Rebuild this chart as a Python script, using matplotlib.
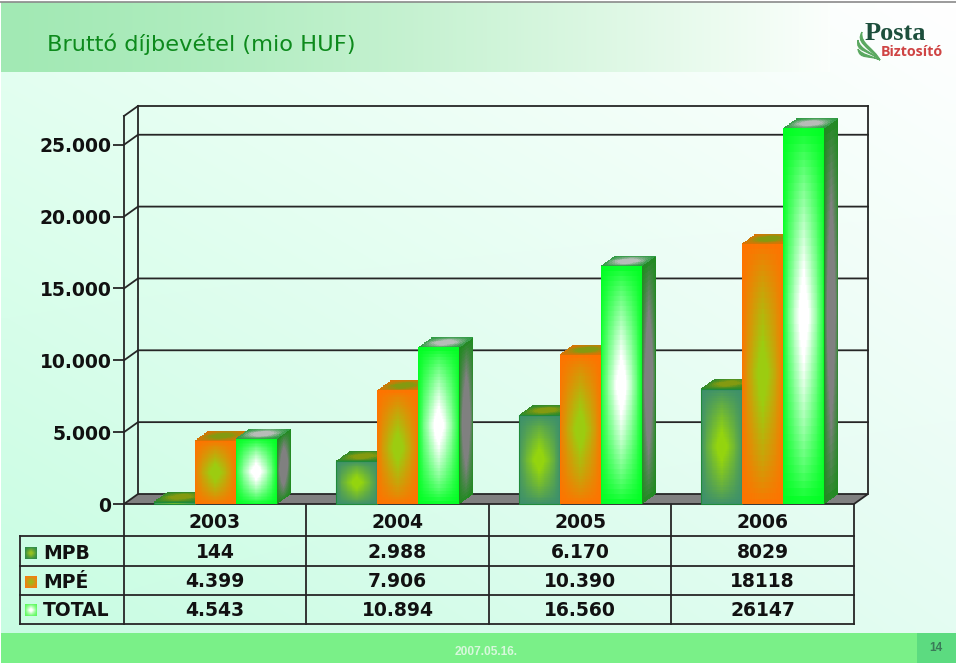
import numpy as np
import matplotlib
matplotlib.use("Agg")
import matplotlib.pyplot as plt
from matplotlib.patches import Polygon, Rectangle, PathPatch
from matplotlib.path import Path
from matplotlib.colors import to_rgb

# ---- data ----
years = ["2003", "2004", "2005", "2006"]
series_names = ["MPB", "MPÉ", "TOTAL"]
mpb = [144, 2988, 6170, 8029]
mpe = [4399, 7906, 10390, 18118]
total = [4543, 10894, 16560, 26147]
mpb_labels = ["144", "2.988", "6.170", "8029"]
mpe_labels = ["4.399", "7.906", "10.390", "18118"]
total_labels = ["4.543", "10.894", "16.560", "26147"]
y_ticks = [0, 5000, 10000, 15000, 20000, 25000]
y_tick_labels = ["0", "5.000", "10.000", "15.000", "20.000", "25.000"]
title = "Bruttó díjbevétel (mio HUF)"
footer_date = "2007.05.16."
page_no = "14"

W, H = 960, 664
FONT = "DejaVu Sans"
INK = "#262626"

# face styles: (outer, inner)
front_cols = [("#3c8f6c", "#94d40e"), ("#ff7200", "#9ccc10"), ("#00ff22", "#ffffff")]
top_cols = [("#2c8a2c", "#849a10"), ("#dc7204", "#849a10"), ("#2c9a40", "#b8bcb8")]
side_cols = [("#1f8a1f", "#808080")] * 3
key_cols = [("#2a8a4a", "#96c020"), ("#f87a10", "#a0b818"), ("#58fa58", "#ffffff")]


def box_grad(ax, p0, ex, ey, outer, inner, n=48, gain=1.25, power=0.8, zorder=3):
    """Fill the parallelogram p0, p0+ex, p0+ey with a soft box gradient."""
    u = np.linspace(0, 1, n + 1)
    v = np.linspace(0, 1, n + 1)
    U, V = np.meshgrid(u, v)
    X = p0[0] + U * ex[0] + V * ey[0]
    Y = p0[1] + U * ex[1] + V * ey[1]
    uc = (u[:-1] + u[1:]) / 2
    vc = (v[:-1] + v[1:]) / 2
    UC, VC = np.meshgrid(uc, vc)
    tx = 1 - np.abs(2 * UC - 1)
    ty = 1 - np.abs(2 * VC - 1)
    t = np.clip(gain * (tx * ty) ** power, 0, 1)
    o, i = np.array(to_rgb(outer)), np.array(to_rgb(inner))
    C = o[None, None, :] * (1 - t[..., None]) + i[None, None, :] * t[..., None]
    ax.pcolormesh(X, Y, C, shading="flat", antialiased=False, linewidth=0,
                  zorder=zorder, clip_on=False)


fig = plt.figure(figsize=(W / 100, H / 100), dpi=100, facecolor="white")

# ---- page layer in pixel coordinates ----
page = fig.add_axes([0, 0, 1, 1], zorder=0)
page.set_xlim(0, W)
page.set_ylim(H, 0)
page.axis("off")

tl, tr = np.array(to_rgb("#e6fff2")), np.array(to_rgb("#ffffff"))
bl, br = np.array(to_rgb("#c8fde2")), np.array(to_rgb("#e4fcf2"))
a = np.linspace(0, 1, 80)[None, :, None]
b = np.linspace(0, 1, 60)[:, None, None]
bg = (tl * (1 - a) + tr * a) * (1 - b) + (bl * (1 - a) + br * a) * b
page.imshow(bg, extent=(1, 956, 633, 3), aspect="auto", interpolation="bilinear", zorder=0)

hl = np.array(to_rgb("#a2e9b4"))
hr = np.array(to_rgb("#fbfffc"))
c = (np.linspace(0, 1, 200) ** 1.3)[None, :, None]
page.imshow(hl * (1 - c) + hr * c, extent=(1, 830, 72.5, 3), aspect="auto",
            interpolation="bilinear", zorder=0.5)
page.set_xlim(0, W)
page.set_ylim(H, 0)
page.plot([0, 956], [2, 2], color="#8a8a8a", lw=1.2, zorder=1, solid_capstyle="butt")
page.add_patch(Rectangle((1, 633), 955, 30, fc="#7af088", ec="none", zorder=1))
page.add_patch(Rectangle((917, 633), 39, 30, fc="#5cdb80", ec="none", zorder=1.1))
page.text(47, 44, title, fontsize=16.2, color="#0d8a1c", family=FONT, va="center", ha="left", zorder=2)
page.text(486, 652, footer_date, fontsize=8.6, color="#d8f8dc", family="Liberation Sans",
          weight="bold", ha="center", va="center", zorder=2)
page.text(936, 648, page_no, fontsize=8.6, color="#3a7a58", family="Liberation Sans",
          weight="bold", ha="center", va="center", zorder=2)

# logo
page.text(895, 40, "Posta", fontsize=19, color="#1d4f3c", family="Liberation Serif",
          weight="bold", ha="center", va="baseline", zorder=2)
page.text(911.5, 52, "Biztosító", fontsize=10.3, color="#cf4444", family="Open Sans",
          weight="bold", ha="center", va="center", zorder=2)
leaves = [
    [(862, 32), (856, 42), (866, 46), (880, 60), (874, 48), (860, 44), (862, 32)],
    [(858, 40), (855, 52), (868, 50), (880, 60), (872, 52), (860, 50), (858, 40)],
    [(858, 49), (859, 60), (870, 55), (880, 60), (872, 56), (862, 55), (858, 49)],
]
for pts in leaves:
    codes = [Path.MOVETO] + [Path.CURVE4] * 6
    page.add_patch(PathPatch(Path(pts, codes), fc="#5aa860", ec="#5aa860", lw=0.8, zorder=2))

# ---- table ----
col_x = [124, 306, 489, 671, 854]
row_y = [504, 536, 566, 595, 623.5]
row_text_y = [522.5, 553, 581.5, 610]
TL = 1.3
for x in col_x:
    page.plot([x, x], [504, 623.5], color=INK, lw=TL, zorder=2, solid_capstyle="projecting")
page.plot([20, 20], [536, 623.5], color=INK, lw=TL, zorder=2, solid_capstyle="projecting")
for y in row_y[1:]:
    page.plot([20, 854], [y, y], color=INK, lw=TL, zorder=2, solid_capstyle="projecting")
TS = 13.5
col_centers = [(col_x[i] + col_x[i + 1]) / 2 for i in range(4)]
for j, yr in enumerate(years):
    page.text(col_centers[j], row_text_y[0], yr, fontsize=TS, weight="bold", family=FONT,
              ha="center", va="center", color="#111111", zorder=3)
for r, labels in enumerate([mpb_labels, mpe_labels, total_labels]):
    yy = row_text_y[r + 1]
    for j, s in enumerate(labels):
        page.text(col_centers[j], yy, s, fontsize=TS, weight="bold", family=FONT,
                  ha="center", va="center", color="#111111", zorder=3)
    page.text(43, yy + 0.5, series_names[r], fontsize=TS, weight="bold", family=FONT,
              ha="left", va="center", color="#111111", zorder=3)
    box_grad(page, (25, yy + 6), (12, 0), (0, -12), key_cols[r][0], key_cols[r][1], n=12)
page.set_xlim(0, W)
page.set_ylim(H, 0)

# ---- chart axes ----
ax = fig.add_axes([124 / W, 1 - 504 / H, 730 / W, 388 / H], zorder=1)
ax.patch.set_alpha(0)
ax.set_xlim(-0.5, 3.5)
ax.set_ylim(0, 27000)
for s in ax.spines.values():
    s.set_visible(False)
ax.set_xticks([])
ax.set_yticks(y_ticks, y_tick_labels)
ax.tick_params(axis="y", length=8, width=TL, color=INK, pad=1, labelsize=TS, labelcolor="#111111")
for lb in ax.get_yticklabels():
    lb.set_fontweight("bold")
    lb.set_family(FONT)

px_x = 4 / 730      # data units per pixel
px_y = 27000 / 388
dx = 14 * px_x
dy = 10 * px_y
x0, x1 = -0.5, 3.5
y1 = 27000

# floor
ax.add_patch(Polygon([(x0, 0), (x1, 0), (x1 + dx, dy), (x0 + dx, dy)], fc="#808080", ec=INK,
                     lw=TL, clip_on=False, zorder=1))
# walls and gridlines
line = dict(color=INK, lw=TL, clip_on=False, zorder=1.5, solid_capstyle="projecting")
ax.plot([x0, x0], [0, y1], **line)
ax.plot([x0, x0 + dx], [y1, y1 + dy], **line)
ax.plot([x0 + dx, x0 + dx], [dy, y1 + dy], **line)
ax.plot([x0 + dx, x1 + dx], [y1 + dy, y1 + dy], **line)
ax.plot([x1 + dx, x1 + dx], [dy, y1 + dy], **line)
for t in y_ticks[1:]:
    ax.plot([x0, x0 + dx, x1 + dx], [t, t + dy, t + dy], **line)

# bars
bw = 41 / 182.5
for i in range(len(years)):
    for k, vals in enumerate([mpb, mpe, total]):
        h = vals[i]
        left = i + (k - 1.5) * bw
        right = left + bw
        z = 3 + i + k * 0.1
        box_grad(ax, (right, 0), (dx, dy), (0, h), *side_cols[k], gain=2.0, power=0.8, zorder=z)
        box_grad(ax, (left, h), (bw, 0), (dx, dy), *top_cols[k], n=16, gain=1.8, zorder=z + 0.01)
        box_grad(ax, (left, 0), (bw, 0), (0, h), *front_cols[k], zorder=z + 0.02)
        if k == 0:
            ax.add_patch(Rectangle((left, 0), bw, h, fc="none", ec="#1f8a3a", lw=0.8,
                                   clip_on=False, zorder=z + 0.03))

ax.set_xlim(-0.5, 3.5)
ax.set_ylim(0, 27000)
fig.savefig("out.png", dpi=100, facecolor="white")
